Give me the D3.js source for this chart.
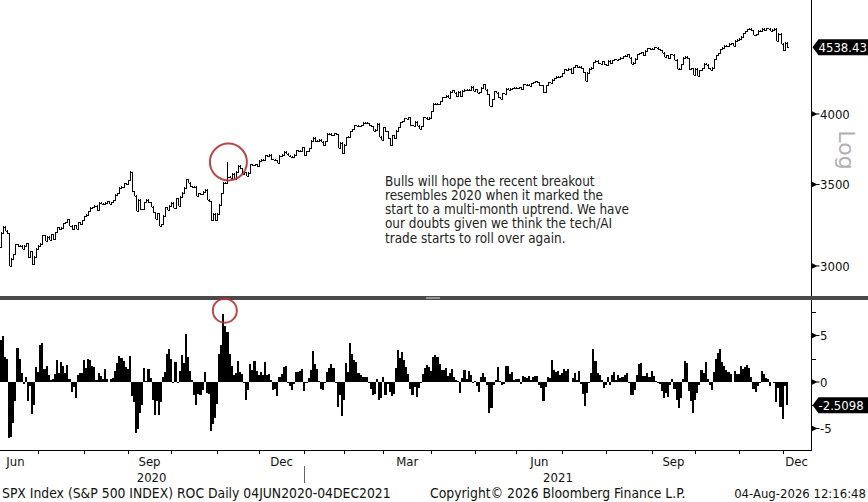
<!DOCTYPE html>
<html>
<head>
<meta charset="utf-8">
<script src="https://cdn.jsdelivr.net/npm/d3@7"></script>
<style>
  html, body { margin: 0; padding: 0; background: #fff; }
  svg { display: block; }
  text { font-family: "DejaVu Sans Condensed", "DejaVu Sans", sans-serif; }
</style>
</head>
<body>
<svg id="chart" width="868" height="502"></svg>
<script>
// ---------------- DATA ----------------
// SPX daily closes, 04JUN2020 - 03DEC2021
const spxClose = [
["2020-06-04",3112.35],["2020-06-05",3193.93],["2020-06-08",3232.39],["2020-06-09",3207.18],["2020-06-10",3190.14],
["2020-06-11",3002.10],["2020-06-12",3041.31],["2020-06-15",3066.59],["2020-06-16",3124.74],["2020-06-17",3113.49],
["2020-06-18",3115.34],["2020-06-19",3097.74],["2020-06-22",3117.86],["2020-06-23",3131.29],["2020-06-24",3050.33],
["2020-06-25",3083.76],["2020-06-26",3009.05],["2020-06-29",3053.24],["2020-06-30",3100.29],
["2020-07-01",3115.86],["2020-07-02",3130.01],["2020-07-06",3179.72],["2020-07-07",3145.32],["2020-07-08",3169.94],
["2020-07-09",3152.05],["2020-07-10",3185.04],["2020-07-13",3155.22],["2020-07-14",3197.52],["2020-07-15",3226.56],
["2020-07-16",3215.57],["2020-07-17",3224.73],["2020-07-20",3251.84],["2020-07-21",3257.30],["2020-07-22",3276.02],
["2020-07-23",3235.66],["2020-07-24",3215.63],["2020-07-27",3239.41],["2020-07-28",3218.44],["2020-07-29",3258.44],
["2020-07-30",3246.22],["2020-07-31",3271.12],
["2020-08-03",3294.61],["2020-08-04",3306.51],["2020-08-05",3327.77],["2020-08-06",3349.16],["2020-08-07",3351.28],
["2020-08-10",3360.47],["2020-08-11",3333.69],["2020-08-12",3380.35],["2020-08-13",3373.43],["2020-08-14",3372.85],
["2020-08-17",3381.99],["2020-08-18",3389.78],["2020-08-19",3374.85],["2020-08-20",3385.51],["2020-08-21",3397.16],
["2020-08-24",3431.28],["2020-08-25",3443.62],["2020-08-26",3478.73],["2020-08-27",3484.55],["2020-08-28",3508.01],
["2020-08-31",3500.31],
["2020-09-01",3526.65],["2020-09-02",3580.84],["2020-09-03",3455.06],["2020-09-04",3426.96],["2020-09-08",3331.84],
["2020-09-09",3398.96],["2020-09-10",3339.19],["2020-09-11",3340.97],["2020-09-14",3383.54],["2020-09-15",3401.20],
["2020-09-16",3385.49],["2020-09-17",3357.01],["2020-09-18",3319.47],["2020-09-21",3281.06],["2020-09-22",3315.57],
["2020-09-23",3236.92],["2020-09-24",3246.59],["2020-09-25",3298.46],["2020-09-28",3351.60],["2020-09-29",3335.47],
["2020-09-30",3363.00],
["2020-10-01",3380.80],["2020-10-02",3348.42],["2020-10-05",3408.60],["2020-10-06",3360.97],["2020-10-07",3419.44],
["2020-10-08",3446.83],["2020-10-09",3477.14],["2020-10-12",3534.22],["2020-10-13",3511.93],["2020-10-14",3488.67],
["2020-10-15",3483.34],["2020-10-16",3483.81],["2020-10-19",3426.92],["2020-10-20",3443.12],["2020-10-21",3435.56],
["2020-10-22",3453.49],["2020-10-23",3465.39],["2020-10-26",3400.97],["2020-10-27",3390.68],["2020-10-28",3271.03],
["2020-10-29",3310.11],["2020-10-30",3269.96],
["2020-11-02",3310.24],["2020-11-03",3369.16],["2020-11-04",3443.44],["2020-11-05",3510.45],["2020-11-06",3509.44],
["2020-11-09",3550.50],["2020-11-10",3545.53],["2020-11-11",3572.66],["2020-11-12",3537.01],["2020-11-13",3585.15],
["2020-11-16",3626.91],["2020-11-17",3609.53],["2020-11-18",3567.79],["2020-11-19",3581.87],["2020-11-20",3557.54],
["2020-11-23",3577.59],["2020-11-24",3635.41],["2020-11-25",3629.65],["2020-11-27",3638.35],["2020-11-30",3621.63],
["2020-12-01",3662.45],["2020-12-02",3669.01],["2020-12-03",3666.72],["2020-12-04",3699.12],["2020-12-07",3691.96],
["2020-12-08",3702.25],["2020-12-09",3672.82],["2020-12-10",3668.10],["2020-12-11",3663.46],["2020-12-14",3647.49],
["2020-12-15",3694.62],["2020-12-16",3701.17],["2020-12-17",3722.48],["2020-12-18",3709.41],["2020-12-21",3694.92],
["2020-12-22",3687.26],["2020-12-23",3690.01],["2020-12-24",3703.06],["2020-12-28",3735.36],["2020-12-29",3727.04],
["2020-12-30",3732.04],["2020-12-31",3756.07],
["2021-01-04",3700.65],["2021-01-05",3726.86],["2021-01-06",3748.14],["2021-01-07",3803.79],["2021-01-08",3824.68],
["2021-01-11",3799.61],["2021-01-12",3801.19],["2021-01-13",3809.84],["2021-01-14",3795.54],["2021-01-15",3768.25],
["2021-01-19",3798.91],["2021-01-20",3851.85],["2021-01-21",3853.07],["2021-01-22",3841.47],["2021-01-25",3855.36],
["2021-01-26",3849.62],["2021-01-27",3750.77],["2021-01-28",3787.38],["2021-01-29",3714.24],
["2021-02-01",3773.86],["2021-02-02",3826.31],["2021-02-03",3830.17],["2021-02-04",3871.74],["2021-02-05",3886.83],
["2021-02-08",3915.59],["2021-02-09",3911.23],["2021-02-10",3909.88],["2021-02-11",3916.38],["2021-02-12",3934.83],
["2021-02-16",3932.59],["2021-02-17",3931.33],["2021-02-18",3913.97],["2021-02-19",3906.71],["2021-02-22",3876.50],
["2021-02-23",3881.37],["2021-02-24",3925.43],["2021-02-25",3829.34],["2021-02-26",3811.15],
["2021-03-01",3901.82],["2021-03-02",3870.29],["2021-03-03",3819.72],["2021-03-04",3768.47],["2021-03-05",3841.94],
["2021-03-08",3821.35],["2021-03-09",3875.44],["2021-03-10",3898.81],["2021-03-11",3939.34],["2021-03-12",3943.34],
["2021-03-15",3968.94],["2021-03-16",3962.71],["2021-03-17",3974.12],["2021-03-18",3915.46],["2021-03-19",3913.10],
["2021-03-22",3940.59],["2021-03-23",3910.52],["2021-03-24",3889.14],["2021-03-25",3909.52],["2021-03-26",3974.54],
["2021-03-29",3971.09],["2021-03-30",3958.55],["2021-03-31",3972.89],
["2021-04-01",4019.87],["2021-04-05",4077.91],["2021-04-06",4073.94],["2021-04-07",4079.95],["2021-04-08",4097.17],
["2021-04-09",4128.80],["2021-04-12",4127.99],["2021-04-13",4141.59],["2021-04-14",4124.66],["2021-04-15",4170.42],
["2021-04-16",4185.47],["2021-04-19",4163.26],["2021-04-20",4134.94],["2021-04-21",4173.42],["2021-04-22",4134.98],
["2021-04-23",4180.17],["2021-04-26",4187.62],["2021-04-27",4186.72],["2021-04-28",4183.18],["2021-04-29",4211.47],
["2021-04-30",4181.17],
["2021-05-03",4192.66],["2021-05-04",4164.66],["2021-05-05",4167.59],["2021-05-06",4201.62],["2021-05-07",4232.60],
["2021-05-10",4188.43],["2021-05-11",4152.10],["2021-05-12",4063.04],["2021-05-13",4112.50],["2021-05-14",4173.85],
["2021-05-17",4163.29],["2021-05-18",4127.83],["2021-05-19",4115.68],["2021-05-20",4159.12],["2021-05-21",4155.86],
["2021-05-24",4197.05],["2021-05-25",4188.13],["2021-05-26",4195.99],["2021-05-27",4200.88],["2021-05-28",4204.11],
["2021-06-01",4202.04],["2021-06-02",4208.12],["2021-06-03",4192.85],["2021-06-04",4229.89],["2021-06-07",4226.52],
["2021-06-08",4227.26],["2021-06-09",4219.55],["2021-06-10",4239.18],["2021-06-11",4247.44],["2021-06-14",4255.15],
["2021-06-15",4246.59],["2021-06-16",4223.70],["2021-06-17",4221.86],["2021-06-18",4166.45],["2021-06-21",4224.79],
["2021-06-22",4246.44],["2021-06-23",4241.84],["2021-06-24",4266.49],["2021-06-25",4280.70],["2021-06-28",4290.61],
["2021-06-29",4291.80],["2021-06-30",4297.50],
["2021-07-01",4319.94],["2021-07-02",4352.34],["2021-07-06",4343.54],["2021-07-07",4358.13],["2021-07-08",4320.82],
["2021-07-09",4369.55],["2021-07-12",4384.63],["2021-07-13",4369.21],["2021-07-14",4374.30],["2021-07-15",4360.03],
["2021-07-16",4327.16],["2021-07-19",4258.49],["2021-07-20",4323.06],["2021-07-21",4358.69],["2021-07-22",4367.48],
["2021-07-23",4411.79],["2021-07-26",4422.30],["2021-07-27",4401.46],["2021-07-28",4400.64],["2021-07-29",4419.15],
["2021-07-30",4395.26],
["2021-08-02",4387.16],["2021-08-03",4423.15],["2021-08-04",4402.66],["2021-08-05",4429.10],["2021-08-06",4436.52],
["2021-08-09",4432.35],["2021-08-10",4436.75],["2021-08-11",4447.70],["2021-08-12",4460.83],["2021-08-13",4468.00],
["2021-08-16",4479.71],["2021-08-17",4448.08],["2021-08-18",4400.27],["2021-08-19",4405.80],["2021-08-20",4441.67],
["2021-08-23",4479.53],["2021-08-24",4486.23],["2021-08-25",4496.19],["2021-08-26",4470.00],["2021-08-27",4509.37],
["2021-08-30",4528.79],["2021-08-31",4522.68],
["2021-09-01",4524.09],["2021-09-02",4536.95],["2021-09-03",4535.43],["2021-09-07",4520.03],["2021-09-08",4514.07],
["2021-09-09",4493.28],["2021-09-10",4458.58],["2021-09-13",4468.73],["2021-09-14",4443.05],["2021-09-15",4480.70],
["2021-09-16",4473.75],["2021-09-17",4432.99],["2021-09-20",4357.73],["2021-09-21",4354.19],["2021-09-22",4395.64],
["2021-09-23",4448.98],["2021-09-24",4455.48],["2021-09-27",4443.11],["2021-09-28",4352.63],["2021-09-29",4359.46],
["2021-09-30",4307.54],
["2021-10-01",4357.04],["2021-10-04",4300.46],["2021-10-05",4345.72],["2021-10-06",4363.55],["2021-10-07",4399.76],
["2021-10-08",4391.34],["2021-10-11",4361.19],["2021-10-12",4350.65],["2021-10-13",4363.80],["2021-10-14",4438.26],
["2021-10-15",4471.37],["2021-10-18",4486.46],["2021-10-19",4519.63],["2021-10-20",4536.19],["2021-10-21",4549.78],
["2021-10-22",4544.90],["2021-10-25",4566.48],["2021-10-26",4574.79],["2021-10-27",4551.68],["2021-10-28",4596.42],
["2021-10-29",4605.38],
["2021-11-01",4613.67],["2021-11-02",4630.65],["2021-11-03",4660.57],["2021-11-04",4680.06],["2021-11-05",4697.53],
["2021-11-08",4701.70],["2021-11-09",4685.25],["2021-11-10",4646.71],["2021-11-11",4649.27],["2021-11-12",4682.85],
["2021-11-15",4682.80],["2021-11-16",4700.90],["2021-11-17",4688.67],["2021-11-18",4704.54],["2021-11-19",4697.96],
["2021-11-22",4682.94],["2021-11-23",4690.70],["2021-11-24",4701.46],["2021-11-26",4594.62],["2021-11-29",4655.27],
["2021-11-30",4567.00],
["2021-12-01",4513.04],["2021-12-02",4577.10],["2021-12-03",4538.43]
];
// closes before the window, needed to start the ROC
const priorClose = [["2020-05-29",3044.31],["2020-06-01",3055.73],["2020-06-02",3080.82],["2020-06-03",3122.87]];
// notable intraday highs
const intradayHigh = [["2020-11-09",3645.99],["2020-09-02",3588.11]];
const rocPeriod = 4;

const priceTicks = [3000, 3500, 4000];
const rocTicks = [5, 0, -5];
const rocMinorTicks = [7.5, 2.5, -2.5];
const monthLabels = ["Jun", "Sep", "Dec", "Mar", "Jun", "Sep", "Dec"];
const monthNames = ["Jan","Feb","Mar","Apr","May","Jun","Jul","Aug","Sep","Oct","Nov","Dec"];
const noteLines = [
  "Bulls will hope the recent breakout",
  "resembles 2020 when it marked the",
  "start to a multi-month uptrend. We have",
  "our doubts given we think the tech/AI",
  "trade starts to roll over again."
];
const footerLeft = "SPX Index (S&P 500 INDEX) ROC Daily 04JUN2020-04DEC2021";
const footerMid = "Copyright\u00A9 2026 Bloomberg Finance L.P.";
const footerRight = "04-Aug-2026 12:16:48";

// ---------------- LAYOUT ----------------
const W = 868, H = 502;
const axisX = 811.5;
const topY0 = 0, topY1 = 296;
const botY0 = 300, botY1 = 450.5;

const svg = d3.select("#chart");

const allSeries = priorClose.concat(spxClose);
const off = priorClose.length;
const data = spxClose.map((d, i) => {
  const c = d[1];
  const o = allSeries[i + off - 1][1];
  const ref = allSeries[i + off - rocPeriod][1];
  const hiO = intradayHigh.find(h => h[0] === d[0]);
  return {
    i, date: d[0], o, c,
    hi: Math.max(o, c, hiO ? hiO[1] : 0),
    lo: Math.min(o, c),
    roc: (c / ref - 1) * 100
  };
});

const x = d3.scaleLinear().domain([0, 390]).range([-1.2, -1.2 + 390 * 2.079]);
const step = 2.079;
const yP = d3.scaleLog().domain([2834, 4963]).range([topY1, topY0]);
const yR = d3.scaleLinear().domain([-7.31, 8.82]).range([450, 300]);

// ---------------- TOP PANEL (bar chart) ----------------
const gTop = svg.append("g");
const bars = gTop.selectAll("g.bar").data(data).enter().append("g")
  .attr("stroke", "#000").attr("stroke-width", 1).attr("shape-rendering", "crispEdges");
bars.append("line")
  .attr("x1", d => Math.round(x(d.i)) + 0.5).attr("x2", d => Math.round(x(d.i)) + 0.5)
  .attr("y1", d => yP(d.hi) - 0.5).attr("y2", d => yP(d.lo) + 0.5);
bars.append("line")
  .attr("x1", d => Math.round(x(d.i)) - 1).attr("x2", d => Math.round(x(d.i)) + 0.5)
  .attr("y1", d => Math.round(yP(d.o)) + 0.5).attr("y2", d => Math.round(yP(d.o)) + 0.5);
bars.append("line")
  .attr("x1", d => Math.round(x(d.i)) + 0.5).attr("x2", d => Math.round(x(d.i)) + 2)
  .attr("y1", d => Math.round(yP(d.c)) + 0.5).attr("y2", d => Math.round(yP(d.c)) + 0.5);

// ---------------- BOTTOM PANEL (ROC columns) ----------------
svg.append("g").selectAll("rect").data(data).enter().append("rect")
  .attr("x", d => x(d.i) - step / 2)
  .attr("width", step)
  .attr("y", d => Math.min(yR(d.roc), yR(0)))
  .attr("height", d => Math.max(0.6, Math.abs(yR(d.roc) - yR(0))))
  .attr("fill", "#000")
  .attr("shape-rendering", "crispEdges");

// ---------------- AXES / FRAME ----------------
const frame = svg.append("g").attr("stroke", "#000").attr("stroke-width", 1).attr("shape-rendering", "crispEdges");
frame.append("line").attr("x1", axisX).attr("x2", axisX).attr("y1", 0).attr("y2", topY1);
frame.append("line").attr("x1", axisX).attr("x2", axisX).attr("y1", botY0).attr("y2", botY1);
frame.append("line").attr("x1", 0).attr("x2", axisX).attr("y1", botY1).attr("y2", botY1);

// divider between panels
svg.append("rect").attr("x", 0).attr("y", 296).attr("width", W).attr("height", 4).attr("fill", "#4a4a4a");
svg.append("rect").attr("x", 426).attr("y", 297.2).attr("width", 14).attr("height", 1.6).attr("fill", "#a8a8a8");

function marker(g, yv) {
  g.append("path")
    .attr("d", `M${axisX},${yv - 3} L${axisX + 6},${yv} L${axisX},${yv + 3} Z`)
    .attr("fill", "#000");
  g.append("line").attr("x1", axisX + 5).attr("x2", axisX + 8).attr("y1", yv).attr("y2", yv)
    .attr("stroke", "#000");
}
const gPY = svg.append("g");
priceTicks.forEach(v => {
  const yy = yP(v);
  marker(gPY, yy);
  gPY.append("text").attr("x", axisX + 8.5).attr("y", yy).attr("dy", "0.36em")
    .attr("font-size", 13).attr("fill", "#111").text(v);
});
const gRY = svg.append("g");
rocTicks.forEach(v => {
  const yy = yR(v);
  marker(gRY, yy);
  gRY.append("text").attr("x", axisX + 8.5).attr("y", yy).attr("dy", "0.36em")
    .attr("font-size", 13).attr("fill", "#111").text(v === 0 ? "0" : (v < 0 ? "-" + Math.abs(v) : v));
});
rocMinorTicks.forEach(v => {
  gRY.append("line").attr("x1", axisX).attr("x2", axisX + 4).attr("y1", Math.round(yR(v)) + 0.5).attr("y2", Math.round(yR(v)) + 0.5)
    .attr("stroke", "#000").attr("shape-rendering", "crispEdges");
});

// "Log" axis title
svg.append("text").attr("transform", `translate(839,150) rotate(90)`)
  .attr("text-anchor", "middle").attr("font-size", 22).attr("fill", "#b0b0b0")
  .style("font-family", "'DejaVu Sans', sans-serif").text("Log");

// last-value tags
function tag(yv, label) {
  const g = svg.append("g");
  g.append("path")
    .attr("d", `M${axisX + 1},${yv} L${axisX + 7},${yv - 8} L${W},${yv - 8} L${W},${yv + 8} L${axisX + 7},${yv + 8} Z`)
    .attr("fill", "#000");
  g.append("text").attr("x", axisX + 7).attr("y", yv).attr("dy", "0.36em")
    .attr("font-size", 13).attr("fill", "#fff").text(label);
}
const last = data[data.length - 1];
tag(yP(last.c), last.c.toFixed(2));
tag(yR(last.roc), last.roc.toFixed(4));

// x-axis month ticks & labels
const monthStarts = [];
allSeries.forEach((d, k) => {
  const idx = k - off;
  const m = d[0].slice(0, 7);
  const prev = k > 0 ? allSeries[k - 1][0].slice(0, 7) : null;
  if (m !== prev) monthStarts.push({ idx, key: m });
});
const months = monthStarts.filter(m => m.key >= "2020-06");
const gX = svg.append("g");
months.forEach((m, j) => {
  if (m.idx > 0) {
    gX.append("line").attr("x1", Math.round(x(m.idx)) + 0.5).attr("x2", Math.round(x(m.idx)) + 0.5)
      .attr("y1", botY1).attr("y2", botY1 + 3.5).attr("stroke", "#000").attr("shape-rendering", "crispEdges");
  }
  const name = monthNames[+m.key.slice(5, 7) - 1];
  if (monthLabels.indexOf(name) >= 0 && (+m.key.slice(5, 7) - 6) % 3 === 0) {
    const nx = months[j + 1] ? (x(m.idx) + x(months[j + 1].idx)) / 2 : Math.min(x(m.idx) + 14, axisX - 14);
    gX.append("text").attr("x", nx).attr("y", 466).attr("text-anchor", "middle")
      .attr("font-size", 13).attr("fill", "#111").text(name);
  }
});
const jan21 = months.find(m => m.key === "2021-01").idx;
gX.append("text").attr("x", (x(0) + x(jan21)) / 2).attr("y", 482).attr("text-anchor", "middle")
  .attr("font-size", 13).attr("fill", "#111").text("2020");
gX.append("text").attr("x", (x(jan21) + axisX) / 2).attr("y", 482).attr("text-anchor", "middle")
  .attr("font-size", 13).attr("fill", "#111").text("2021");
gX.append("line").attr("x1", Math.round(x(jan21)) + 0.5).attr("x2", Math.round(x(jan21)) + 0.5)
  .attr("y1", 466).attr("y2", 483).attr("stroke", "#666").attr("shape-rendering", "crispEdges");

// annotation
const note = svg.append("text").attr("font-size", 13.4).attr("fill", "#222");
noteLines.forEach((t, k) => {
  note.append("tspan").attr("x", 385).attr("y", 185.5 + k * 14.3).text(t);
});

// red circles highlighting the Nov-2020 breakout
const nov = data.find(d => d.date === "2020-11-06");
svg.append("circle").attr("cx", x(nov.i) + 3).attr("cy", 162).attr("r", 18.5)
  .attr("fill", "none").attr("stroke", "#b83232").attr("stroke-width", 2).attr("opacity", 0.9);
const pk = data.find(d => d.date === "2020-11-05");
svg.append("circle").attr("cx", x(pk.i) + 1.5).attr("cy", yR(pk.roc) - 3).attr("r", 12)
  .attr("fill", "none").attr("stroke", "#b83232").attr("stroke-width", 2).attr("opacity", 0.9);

// footer
svg.append("text").attr("x", 2).attr("y", 498).attr("font-size", 13.8).attr("fill", "#111").text(footerLeft);
svg.append("text").attr("x", 430).attr("y", 498).attr("font-size", 13.8).attr("fill", "#111").text(footerMid);
svg.append("text").attr("x", 866).attr("y", 498).attr("text-anchor", "end").attr("font-size", 13).attr("fill", "#111").text(footerRight);
</script>
</body>
</html>
